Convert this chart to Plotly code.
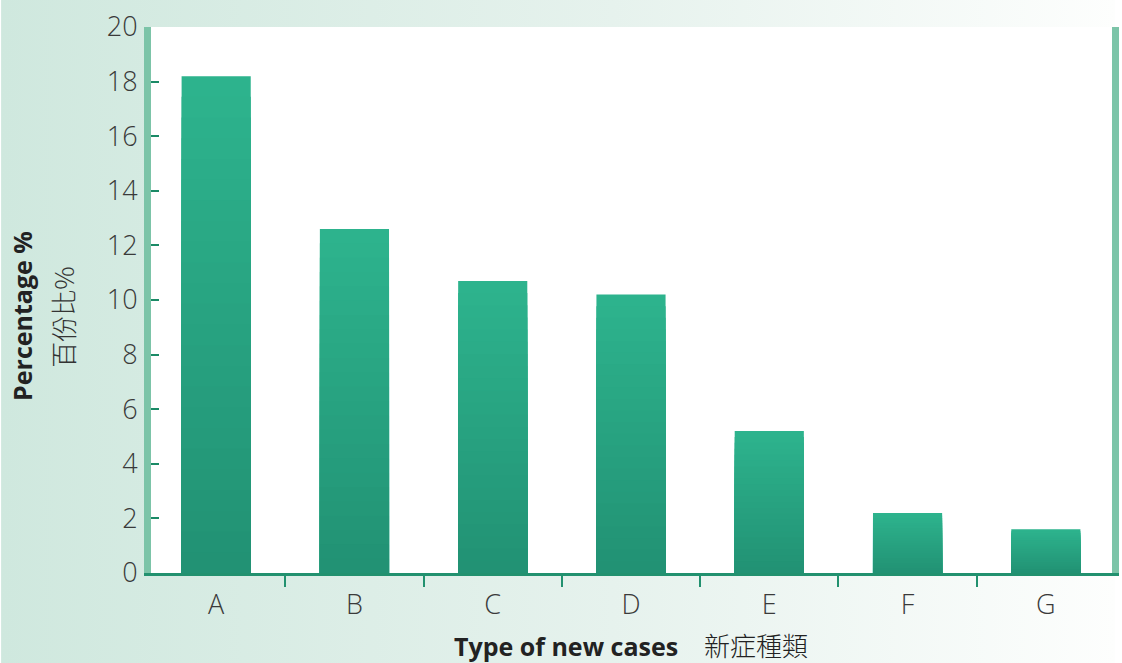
import base64
import plotly.graph_objects as go

# ---- data ----
categories = ["A", "B", "C", "D", "E", "F", "G"]
values = [18.2, 12.6, 10.7, 10.2, 5.2, 2.2, 1.6]
y_tick_values = [0, 2, 4, 6, 8, 10, 12, 14, 16, 18, 20]
y_tick_labels = ["0", "2", "4", "6", "8", "10", "12", "14", "16", "18", "20"]
x_title_en = "Type of new cases"
x_title_zh = "新症種類"
y_title_en = "Percentage %"
y_title_zh = "百份比%"

# ---- style ----
W, H = 1122, 663
ML, MR, MT, MB = 151, 3, 27, 90
PW, PH = W - ML - MR, H - MT - MB
# category boundaries in reference: first at x=147, last at x=1122
unit = (1122 - 147) / 7
x_lo = -0.5 + (ML - 147) / unit
x_hi = 6.5 - (1122 - (W - MR)) / unit
top_rgb = (45, 179, 141)
bot_rgb = (34, 146, 116)
N_SLICES = 24
LABEL_FONT = dict(family="Open Sans", size=27, color="#3a3a3a", weight=300)

fig = go.Figure()

# bars with vertical gradient: overlay of progressively shorter, darker bars
for k in range(N_SLICES):
    t = k / (N_SLICES - 1)
    col = "rgb({},{},{})".format(*[round(a + (b - a) * t) for a, b in zip(top_rgb, bot_rgb)])
    frac = 1 - k / N_SLICES
    fig.add_trace(go.Bar(
        x=categories,
        y=[v * frac for v in values],
        marker=dict(color=col, line=dict(width=0)),
        width=0.5,
        hoverinfo="skip" if k else "x+y",
        showlegend=False,
    ))

# background gradient (paper) as inline SVG image
svg = (
    f'<svg xmlns="http://www.w3.org/2000/svg" width="{W}" height="{H}" '
    f'viewBox="0 0 {W} {H}" preserveAspectRatio="none">'
    '<defs><linearGradient id="g" x1="0" x2="1" y1="0" y2="0">'
    '<stop offset="0" stop-color="#cfe8de"/>'
    '<stop offset="0.55" stop-color="#e6f2ed"/>'
    '<stop offset="1" stop-color="#fdfefd"/>'
    '</linearGradient></defs>'
    f'<rect width="{W}" height="{H}" fill="url(#g)"/></svg>'
)
src = "data:image/svg+xml;base64," + base64.b64encode(svg.encode()).decode()

fig.update_layout(
    width=W, height=H, autosize=False,
    margin=dict(l=ML, r=MR, t=MT, b=MB, pad=0),
    paper_bgcolor="#ffffff",
    plot_bgcolor="#ffffff",
    barmode="overlay",
    showlegend=False,
    images=[dict(
        source=src, xref="paper", yref="paper",
        x=-ML / PW, y=1 + MT / PH, sizex=W / PW, sizey=H / PH,
        xanchor="left", yanchor="top", sizing="stretch", layer="below",
    )],
    shapes=[dict(
        type="rect", xref="x domain", yref="y domain",
        x0=0, x1=1, y0=0, y1=1, fillcolor="#ffffff",
        line=dict(width=0), layer="below",
    )],
    xaxis=dict(
        type="category",
        tickson="boundaries",
        ticks="outside", ticklen=11, tickwidth=2, tickcolor="#22916f",
        showline=True, linecolor="#22916f", linewidth=3,
        showgrid=False, zeroline=False,
        tickfont=LABEL_FONT,
        ticklabelstandoff=6,
        range=[x_lo, x_hi],
    ),
    yaxis=dict(
        range=[0, 20],
        tickmode="array", tickvals=y_tick_values, ticktext=y_tick_labels,
        ticks="inside", ticklen=8, tickwidth=2, tickcolor="#1a8a66",
        showline=True, linecolor="#7cc4a8", linewidth=7, mirror=True,
        showgrid=False, zeroline=False,
        tickfont=LABEL_FONT,
        ticklabelstandoff=1,
    ),
    annotations=[
        dict(
            text=f"<b>{x_title_en}</b>&nbsp;&nbsp;&nbsp;&nbsp;<span style='font-family:\"Noto Sans CJK TC\";font-weight:300;font-size:26px'>{x_title_zh}</span>",
            xref="paper", yref="paper", x=(634.5 - ML) / PW, y=(573 - 644) / PH,
            xanchor="center", yanchor="middle", showarrow=False,
            font=dict(family="Open Sans", size=25, color="#222222"),
        ),
        dict(
            text=f"<b>{y_title_en}</b>",
            xref="paper", yref="paper", x=(21 - ML) / PW, y=(573 - 316) / PH,
            xanchor="center", yanchor="middle", showarrow=False, textangle=-90,
            font=dict(family="Open Sans", size=25, color="#222222"),
        ),
        dict(
            text=y_title_zh,
            xref="paper", yref="paper", x=(61 - ML) / PW, y=(573 - 317) / PH,
            xanchor="center", yanchor="middle", showarrow=False, textangle=-90,
            font=dict(family="Noto Sans CJK TC", size=26, color="#333333", weight=300),
        ),
    ],
)

fig.write_html(
    "out.html",
    config={"displayModeBar": False, "responsive": False},
    post_script=(
        "document.documentElement.style.overflow='hidden';"
        "document.body.style.margin='0';document.body.style.overflow='hidden';"
    ),
)
